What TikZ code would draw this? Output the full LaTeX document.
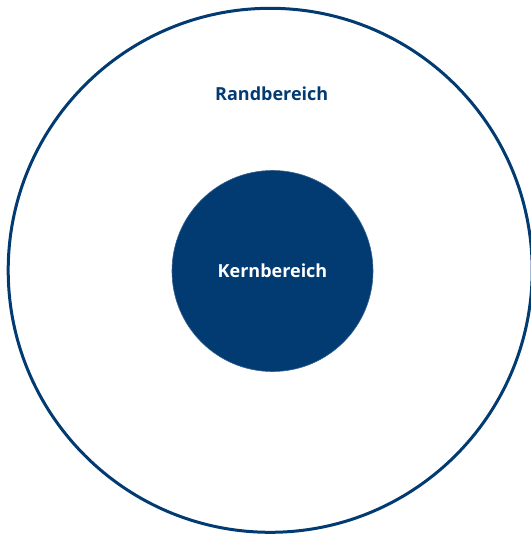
\documentclass[tikz,border=0pt]{standalone}
\usepackage{fontspec}
\setmainfont{Open Sans}
\usepackage{tikz}
\definecolor{zonenblau}{RGB}{2,58,114}

\begin{document}
\begin{tikzpicture}[x=1pt,y=1pt]
\useasboundingbox (0,0) rectangle (530,-537);
\draw [zonenblau, line width=3] (270.2,-270.3) circle (262);
\draw [zonenblau!80, fill=zonenblau, line width=0.6] (272.5,-271) circle (100.5);
\node [zonenblau, anchor=base, font=\fontsize{18}{21}\selectfont\bfseries] (rand) at (271.7,-101) {Randbereich};
\node [white, anchor=base, font=\fontsize{18}{21}\selectfont\bfseries] (kern) at (272.5,-277.3) {Kernbereich};
\end{tikzpicture}
\end{document}
